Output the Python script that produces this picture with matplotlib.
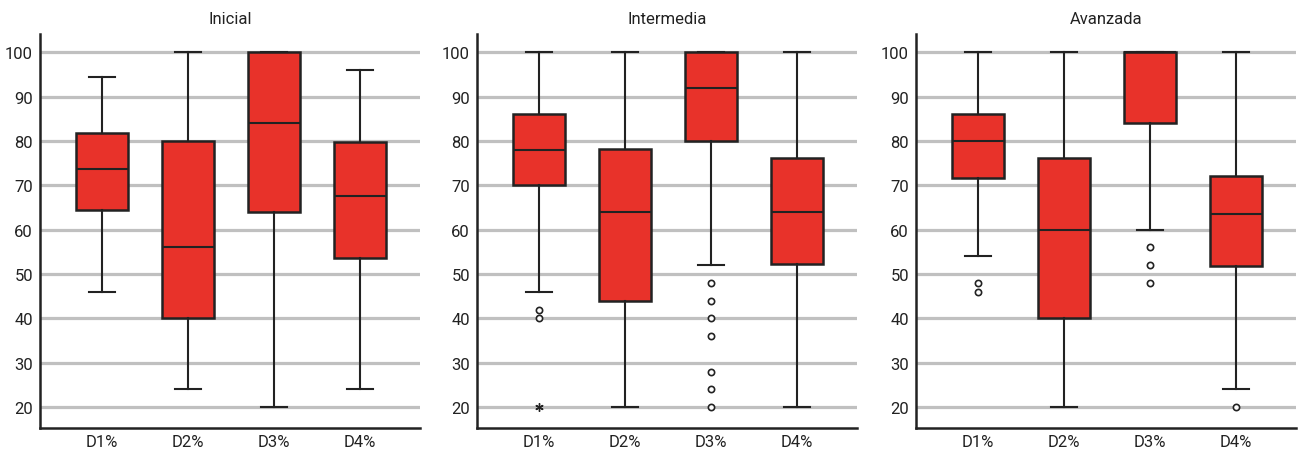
import matplotlib
matplotlib.use('Agg')
import matplotlib.pyplot as plt

plt.rcParams['font.family'] = ['Roboto', 'DejaVu Sans']

RED = '#e8322a'
EDGE = '#222222'
GRID = '#c0c0c0'

groups = ['Inicial', 'Intermedia', 'Avanzada']
categories = ['D1%', 'D2%', 'D3%', 'D4%']

# bigotes, cuartiles y mediana por grupo (D1..D4)
whis_lo = [[46, 24, 20, 24], [46, 20, 52, 20], [54, 20, 60, 24]]
q1 = [[64.5, 40, 64, 53.6], [70, 44, 80, 52.2], [71.6, 40, 84, 51.8]]
med = [[73.7, 56, 84, 67.7], [78, 64, 92, 64], [80, 60, 100, 63.6]]
q3 = [[81.8, 80, 100, 79.8], [86, 78.2, 100, 76.2], [86, 76.2, 100, 72]]
whis_hi = [[94.3, 100, 100, 96], [100, 100, 100, 100], [100, 100, 100, 100]]

# atipicos (circulos) y extremos (asterisco)
outliers = [
    [[], [], [], []],
    [[42, 40], [], [48, 44, 40, 36, 28, 24, 20], []],
    [[48, 46], [], [56, 52, 48], [20]],
]
extremes = [
    [[], [], [], []],
    [[20], [], [], []],
    [[], [], [], []],
]

yticks = [20, 30, 40, 50, 60, 70, 80, 90, 100]

W, H = 1303, 456
fig = plt.figure(figsize=(W / 100, H / 100), dpi=100)
lefts = [40, 477, 916]
top, bottom = 35, 429

for g, name in enumerate(groups):
    ax = fig.add_axes([lefts[g] / W, (H - bottom) / H, 380 / W, (bottom - top) / H])
    stats = []
    for i, cat in enumerate(categories):
        stats.append(dict(label=cat, whislo=whis_lo[g][i], q1=q1[g][i], med=med[g][i],
                          q3=q3[g][i], whishi=whis_hi[g][i], fliers=outliers[g][i]))
    ax.bxp(stats, positions=range(1, 5), widths=0.6, capwidths=0.3,
           patch_artist=True, showfliers=True,
           boxprops=dict(facecolor=RED, edgecolor=EDGE, linewidth=1.8),
           medianprops=dict(color=EDGE, linewidth=1.5),
           whiskerprops=dict(color=EDGE, linewidth=1.5),
           capprops=dict(color=EDGE, linewidth=1.5),
           flierprops=dict(marker='o', markersize=4.5, markerfacecolor='white',
                           markeredgecolor=EDGE, markeredgewidth=1.2))
    for i in range(4):
        if extremes[g][i]:
            ax.plot([i + 1] * len(extremes[g][i]), extremes[g][i], ls='none',
                    marker=(6, 2, 0), markersize=6, markeredgecolor=EDGE,
                    markeredgewidth=1.0, zorder=3)

    ax.set_xlim(0.28, 4.7)
    ax.set_ylim(15.3, 104.1)
    ax.set_yticks(yticks)
    ax.yaxis.grid(True, color=GRID, linewidth=2.3)
    ax.set_axisbelow(True)
    for s in ['top', 'right']:
        ax.spines[s].set_visible(False)
    for s in ['left', 'bottom']:
        ax.spines[s].set_linewidth(1.8)
        ax.spines[s].set_color(EDGE)
    ax.tick_params(length=0, labelsize=12, colors='#222222', pad=5)
    ax.tick_params(axis='x', pad=4)
    ax.set_title(name, fontsize=12, color='#222222', pad=8)

fig.savefig('out.png', dpi=100, facecolor='white')
